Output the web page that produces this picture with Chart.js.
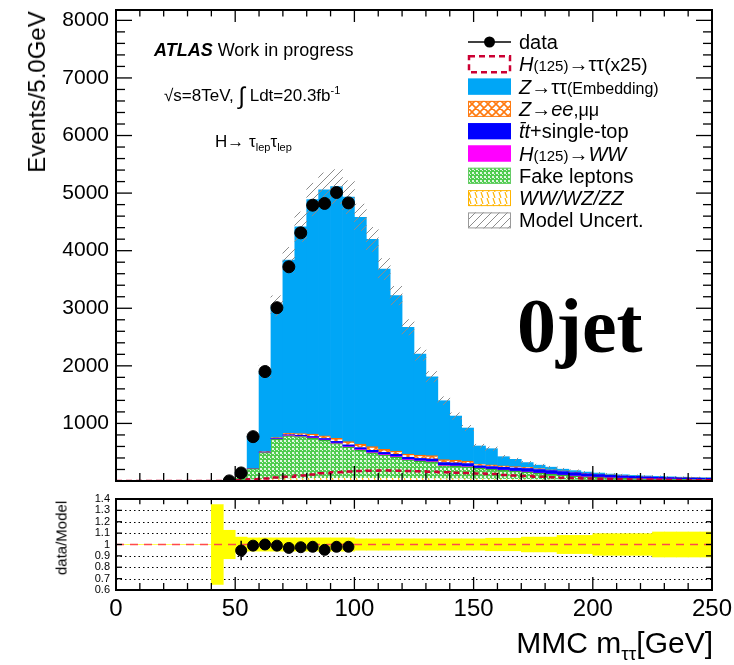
<!DOCTYPE html>
<html>
<head>
<meta charset="utf-8">
<title>MMC mass - 0jet</title>
<script src="https://cdn.jsdelivr.net/npm/chart.js@4.4.1/dist/chart.umd.min.js"></script>
<style>
  html, body { margin: 0; padding: 0; background: #fff; }
  body { position: relative; width: 734px; height: 665px; overflow: hidden;
         font-family: 'Liberation Sans', Arial, sans-serif; color: #000; }
  canvas { position: absolute; left: 0; }
  #cMain  { top: 0; }
  #cRatio { top: 490px; }
  .t { position: absolute; white-space: nowrap; line-height: 1; }
  .t sub, .t sup { line-height: 0; }
</style>
</head>
<body>
<canvas id="cMain" width="734" height="490"></canvas>
<canvas id="cRatio" width="734" height="175"></canvas>

<div class="t" style="left:154px;top:41px;font-size:18px"><b><i>ATLAS</i></b> Work in progress</div>
<div class="t" style="left:164px;top:84px;font-size:17px">√s=8TeV, <span style="font-size:24px;vertical-align:-3px">∫</span> Ldt=20.3fb<sup style="font-size:11px">-1</sup></div>
<div class="t" style="left:215px;top:133px;font-size:17px">H→ τ<sub style="font-size:11px">lep</sub>τ<sub style="font-size:11px">lep</sub></div>
<div class="t" style="left:517px;top:287px;font-family:'Liberation Serif',serif;font-weight:bold;font-size:78px">0jet</div>
<div class="t" style="left:37px;top:92px;font-size:24px;transform:translate(-50%,-50%) rotate(-90deg)">Events/5.0GeV</div>
<div class="t" style="left:61px;top:538px;font-size:15px;transform:translate(-50%,-50%) rotate(-90deg)">data/Model</div>
<div class="t" style="right:21px;top:628px;font-size:30px">MMC m<sub style="font-size:19px">ττ</sub>[GeV]</div>

<script>
'use strict';

// ── Binning: MMC m_tautau, 5 GeV bins from 0 to 250 ─────────
const BIN_CENTRES = [2.5,7.5,12.5,17.5,22.5,27.5,32.5,37.5,42.5,47.5,
                     52.5,57.5,62.5,67.5,72.5,77.5,82.5,87.5,92.5,97.5,
                     102.5,107.5,112.5,117.5,122.5,127.5,132.5,137.5,142.5,147.5,
                     152.5,157.5,162.5,167.5,172.5,177.5,182.5,187.5,192.5,197.5,
                     202.5,207.5,212.5,217.5,222.5,227.5,232.5,237.5,242.5,247.5];
const X_TICKS     = [0, 50, 100, 150, 200, 250];
const Y_TICKS     = [0, 1000, 2000, 3000, 4000, 5000, 6000, 7000, 8000];
const RATIO_TICKS = [0.6, 0.7, 0.8, 0.9, 1.0, 1.1, 1.2, 1.3, 1.4];
const RATIO_GRID  = [0.7, 0.8, 0.9, 1.1, 1.2, 1.3];

// ── Stacked backgrounds (bottom -> top), events / bin ───────
const DIBOSON = [0,0,0,0,0,0,0,0,0,1, 5,20,30,35,40,42,45,46,47,48,
                 48,48,47,46,45,44,42,40,38,36, 34,32,30,28,26,24,22,20,18,16,
                 14,13,12,11,10,9,8,7,7,6];
const FAKES   = [0,0,0,0,0,0,0,0,3,9, 105,195,465,690,745,730,700,660,605,540,
                 490,440,405,370,320,300,290,225,220,210, 185,170,155,140,128,110,95,80,68,57,
                 50,42,37,32,29,26,24,21,19,17];
const HWW     = [0,0,0,0,0,0,0,0,0,0, 0,0,2,3,4,5,5,6,6,7,
                 7,7,7,7,7,6,6,5,5,5, 4,4,4,3,3,3,3,2,2,2,
                 2,1,1,1,1,1,1,1,1,1];
const TTBAR   = [0,0,0,0,0,0,0,0,0,0, 3,3,6,10,14,18,23,26,30,33,
                 35,38,38,40,40,42,44,50,52,52, 40,44,48,55,60,62,62,62,58,52,
                 47,43,40,37,34,31,28,26,25,24];
const ZLL     = [0,0,0,0,0,0,0,0,0,0, 0,2,6,14,25,30,40,47,52,55,
                 60,63,53,57,57,59,58,50,50,44, 32,30,25,24,21,16,13,11,9,8,
                 7,6,5,4,4,3,3,3,2,2];
const ZTT     = [0,0,0,0,0,0,0,0,0,0, 35,558,1391,2288,3007,3591,4075,4273,4372,4246,
                 3940,3599,3130,2700,2201,1754,1371,1024,763,573, 313,281,160,126,82,60,45,30,25,20,
                 18,15,13,12,10,10,8,8,7,6];

// H(125)->tautau signal scaled x25 (overlay, not stacked)
const SIGNAL_X25 = [0,0,0,0,0,0,0,0,2,5, 15,30,45,60,75,95,115,135,150,165,
                    175,180,182,180,175,168,160,152,145,138, 130,120,105,95,85,75,65,58,50,45,
                    40,35,30,27,24,21,18,16,14,12];

// relative model uncertainty per bin
const MODEL_UNC = [0,0,0,0,0,0,0,0,0.35,0.125, 0.065,0.058,0.058,0.058,0.058,0.058,0.058,0.058,0.058,0.058,
                   0.05,0.05,0.05,0.05,0.05,0.05,0.05,0.05,0.05,0.05, 0.05,0.055,0.055,0.055,0.065,0.065,0.065,0.08,0.08,0.08,
                   0.095,0.095,0.095,0.095,0.095,0.11,0.11,0.11,0.11,0.11];

// ── Data (blinded above 100 GeV) ────────────────────────────
const DATA_X   = [47.5, 52.5, 57.5, 62.5, 67.5, 72.5, 77.5, 82.5, 87.5, 92.5, 97.5];
const DATA     = [2, 140, 770, 1900, 3010, 3720, 4310, 4790, 4820, 5010, 4830];
const DATA_ERR = [1.4, 12, 28, 44, 55, 61, 66, 69, 69, 71, 70];

const RATIO_X   = [52.5, 57.5, 62.5, 67.5, 72.5, 77.5, 82.5, 87.5, 92.5, 97.5];
const RATIO     = [0.947, 0.99, 1.0, 0.99, 0.97, 0.976, 0.98, 0.953, 0.98, 0.98];
const RATIO_ERR = [0.085, 0.036, 0.024, 0.019, 0.017, 0.016, 0.015, 0.014, 0.014, 0.014];

const X_MIN = 0, X_MAX = 250, Y_MAX = 8180;
const FONT = "'Liberation Sans', Arial, sans-serif";

Chart.defaults.font.family = FONT;
Chart.defaults.color = '#000';
Chart.defaults.animation = false;

// ── Fill patterns (ROOT-ish hatches) ─────────────────────────
const makePattern = (size, bg, draw) => {
    const c = document.createElement('canvas');
    c.width = c.height = size;
    const g = c.getContext('2d');
    if (bg) { g.fillStyle = bg; g.fillRect(0, 0, size, size); }
    draw(g, size);
    return g.createPattern(c, 'repeat');
};
const strokeLines = (g, lines) => {
    g.beginPath();
    lines.forEach(([a, b, c, d]) => { g.moveTo(a, b); g.lineTo(c, d); });
    g.stroke();
};
const PAT = {
    fakes: makePattern(4, '#4fcc4f', (g) => {
        g.fillStyle = '#e2f8e2';
        g.fillRect(0, 0, 2, 2);
        g.fillRect(2, 2, 1, 1);
    }),
    zll: makePattern(8, '#ffffff', (g, s) => {
        g.strokeStyle = '#ff7a10'; g.lineWidth = 1.6;
        strokeLines(g, [[0,0,s,s],[-s,0,0,s],[s,0,2*s,s],[0,s,s,0],[-s,s,0,0],[s,s,2*s,0]]);
    }),
    diboson: makePattern(6, '#ffffff', (g, s) => {
        g.strokeStyle = '#ffb400'; g.lineWidth = 1.2;
        strokeLines(g, [[1,0,3,s],[-5,0,-3,s],[7,0,9,s]]);
    }),
    unc: makePattern(8, null, (g, s) => {
        g.strokeStyle = '#8c8c8c'; g.lineWidth = 1;
        strokeLines(g, [[0,s,s,0],[-s,s,0,0],[s,s,2*s,0]]);
    }),
};

const COL = { ztt: '#00a6f6', ttbar: '#0000ff', hww: '#ff00ff', signal: '#cc0033' };

// ── Derived tables ───────────────────────────────────────────
const TOTAL = BIN_CENTRES.map((_, i) => DIBOSON[i] + FAKES[i] + HWW[i] + TTBAR[i] + ZLL[i] + ZTT[i]);
const asXY = (arr) => BIN_CENTRES.map((x, i) => ({ x, y: arr[i] }));
const signalSteps = [{ x: X_MIN, y: SIGNAL_X25[0] }, ...asXY(SIGNAL_X25),
                     { x: X_MAX, y: SIGNAL_X25[SIGNAL_X25.length - 1] }];

// keep the plot frame exactly where it is in the reference
const noPad = (s) => { s.paddingTop = 0; s.paddingBottom = 0; s.paddingLeft = 0; s.paddingRight = 0; };

// ── Plugins ──────────────────────────────────────────────────
// ROOT style frame with inward major/minor ticks, optional dotted grid
const rootFrame = {
    id: 'rootFrame',
    beforeDatasetsDraw(chart, args, o) {
        if (!o.grid) return;
        const { ctx, chartArea: a, scales: { y } } = chart;
        ctx.save();
        ctx.strokeStyle = '#000'; ctx.lineWidth = 1; ctx.setLineDash([1.5, 3]);
        o.grid.forEach(v => {
            const py = Math.round(y.getPixelForValue(v)) + 0.5;
            ctx.beginPath(); ctx.moveTo(a.left, py); ctx.lineTo(a.right, py); ctx.stroke();
        });
        ctx.restore();
    },
    afterDatasetsDraw(chart, args, o) {
        const { ctx, chartArea: a, scales: { x, y } } = chart;
        ctx.save();
        ctx.strokeStyle = '#000'; ctx.lineWidth = 1.3;
        const seg = (x1, y1, x2, y2) => { ctx.beginPath(); ctx.moveTo(x1, y1); ctx.lineTo(x2, y2); ctx.stroke(); };
        const nx = Math.round((x.max - x.min) / o.xMinor);
        for (let i = 0; i <= nx; i++) {
            const px = x.getPixelForValue(x.min + i * o.xMinor);
            const L = i % o.xEvery === 0 ? o.xLen[0] : o.xLen[1];
            seg(px, a.bottom, px, a.bottom - L);
            seg(px, a.top, px, a.top + L * o.topScale);
        }
        const ny = Math.floor((y.max - y.min) / o.yMinor + 1e-6);
        for (let i = 0; i <= ny; i++) {
            const py = y.getPixelForValue(y.min + i * o.yMinor);
            const L = i % o.yEvery === 0 ? o.yLen[0] : o.yLen[1];
            seg(a.left, py, a.left + L, py);
            seg(a.right, py, a.right - L, py);
        }
        ctx.lineWidth = 2;
        ctx.strokeRect(a.left, a.top, a.width, a.height);
        ctx.restore();
    }
};

// vertical error bars for datasets carrying an `errors` array
const errorBars = {
    id: 'errorBars',
    afterDatasetsDraw(chart) {
        const ctx = chart.ctx;
        chart.data.datasets.forEach((ds, i) => {
            if (!ds.errors) return;
            const meta = chart.getDatasetMeta(i);
            const ys = chart.scales[meta.yAxisID];
            ctx.save();
            ctx.strokeStyle = '#000'; ctx.lineWidth = 1.5;
            meta.data.forEach((pt, j) => {
                const v = ds.data[j].y, e = ds.errors[j];
                ctx.beginPath();
                ctx.moveTo(pt.x, ys.getPixelForValue(v - e));
                ctx.lineTo(pt.x, ys.getPixelForValue(v + e));
                ctx.stroke();
            });
            ctx.restore();
        });
    }
};

// ATLAS style legend box at the top right
const LEGEND = [
    { kind: 'data',   runs: [['data', '20px']] },
    { kind: 'signal', runs: [['H', 'italic 20px'], ['(125)', '15px'], ['→ττ', '20px'], ['(x25)', '19px']] },
    { kind: 'fill', fill: COL.ztt, edge: COL.ztt,
      runs: [['Z', 'italic 20px'], ['→ττ', '20px'], ['(Embedding)', '16px']] },
    { kind: 'fill', fill: PAT.zll, edge: '#ff7a10',
      runs: [['Z', 'italic 20px'], ['→', '20px'], ['ee', 'italic 20px'], [',μμ', '18px']] },
    { kind: 'fill', fill: COL.ttbar, edge: COL.ttbar,
      runs: [['t\u0304t', 'italic 20px'], ['+single-top', '20px']] },
    { kind: 'fill', fill: COL.hww, edge: COL.hww,
      runs: [['H', 'italic 20px'], ['(125)', '15px'], ['→', '20px'], ['WW', 'italic 20px']] },
    { kind: 'fill', fill: PAT.fakes, edge: '#66cc66', runs: [['Fake leptons', '20px']] },
    { kind: 'fill', fill: PAT.diboson, edge: '#ffb400', runs: [['WW/WZ/ZZ', 'italic 20px']] },
    { kind: 'fill', fill: PAT.unc, edge: '#9a9a9a', runs: [['Model Uncert.', '20px']] },
];
const legendBox = {
    id: 'legendBox',
    afterDraw(chart) {
        const ctx = chart.ctx;
        const x0 = 468, w = 43, h = 16, tx = 519, y0 = 42, dy = 22.3;
        ctx.save();
        LEGEND.forEach((row, k) => {
            const cy = y0 + k * dy;
            if (row.kind === 'data') {
                ctx.strokeStyle = '#000'; ctx.lineWidth = 1.5;
                ctx.beginPath(); ctx.moveTo(x0, cy); ctx.lineTo(x0 + w, cy); ctx.stroke();
                ctx.fillStyle = '#000';
                ctx.beginPath(); ctx.arc(x0 + w / 2, cy, 5.5, 0, Math.PI * 2); ctx.fill();
            } else if (row.kind === 'signal') {
                ctx.strokeStyle = COL.signal; ctx.lineWidth = 2.5; ctx.setLineDash([6, 4]);
                ctx.strokeRect(x0 + 1, cy - h / 2, w - 2, h);
                ctx.setLineDash([]);
            } else {
                ctx.fillStyle = row.fill;
                ctx.fillRect(x0, cy - h / 2, w, h);
                ctx.strokeStyle = row.edge; ctx.lineWidth = 1;
                ctx.strokeRect(x0 + 0.5, cy - h / 2 + 0.5, w - 1, h - 1);
            }
            let x = tx;
            ctx.fillStyle = '#000'; ctx.textBaseline = 'alphabetic'; ctx.textAlign = 'left';
            row.runs.forEach(([t, f]) => {
                ctx.font = `${f} ${FONT}`;
                ctx.fillText(t, x, cy + 7);
                x += ctx.measureText(t).width;
            });
        });
        ctx.restore();
    }
};

// ── Main distribution ────────────────────────────────────────
const stackBar = (label, arr, fill, extra = {}) => Object.assign({
    label, data: asXY(arr), backgroundColor: fill, borderWidth: 0, order: 10,
}, extra);

new Chart(document.getElementById('cMain'), {
    type: 'bar',
    data: {
        datasets: [
            stackBar('WW/WZ/ZZ', DIBOSON, PAT.diboson),
            stackBar('Fake leptons', FAKES, PAT.fakes, { borderColor: '#35b035', borderWidth: { top: 1.2 } }),
            stackBar('H(125)→WW', HWW, COL.hww),
            stackBar('tt+single-top', TTBAR, COL.ttbar),
            stackBar('Z→ee,μμ', ZLL, PAT.zll, { borderColor: '#ff6a00', borderWidth: { top: 1.5 } }),
            stackBar('Z→ττ (Embedding)', ZTT, COL.ztt),
            {
                label: 'Model Uncert.', yAxisID: 'yU', order: 2, borderWidth: 0,
                backgroundColor: PAT.unc,
                data: BIN_CENTRES.map((x, i) => ({ x, y: [TOTAL[i] * (1 - MODEL_UNC[i]), TOTAL[i] * (1 + MODEL_UNC[i])] })),
            },
            {
                type: 'line', label: 'H(125)→ττ (x25)', yAxisID: 'yU', order: 1,
                data: signalSteps, stepped: 'middle', borderColor: COL.signal,
                borderWidth: 2.5, borderDash: [6, 4], pointRadius: 0, fill: false,
            },
            {
                type: 'line', label: 'data', yAxisID: 'yU', order: 0, showLine: false,
                data: DATA_X.map((x, i) => ({ x, y: DATA[i] })), errors: DATA_ERR,
                pointRadius: 6, pointBackgroundColor: '#000', pointBorderColor: '#000',
            },
        ]
    },
    options: {
        responsive: false,
        layout: { padding: { top: 10, right: 22, left: 0, bottom: 0 } },
        datasets: { bar: { categoryPercentage: 1, barPercentage: 1 } },
        plugins: {
            legend: { display: false }, tooltip: { enabled: false },
            rootFrame: { xMinor: 10, xEvery: 5, xLen: [15, 8], topScale: 0.8,
                         yMinor: 200, yEvery: 5, yLen: [16, 9] },
        },
        scales: {
            x: {
                type: 'linear', min: X_MIN, max: X_MAX, stacked: true, offset: false,
                grid: { display: false, offset: false }, border: { display: false },
                ticks: { display: false },
                afterBuildTicks: s => { s.ticks = X_TICKS.map(v => ({ value: v })); },
                afterFit: s => { s.height = 9; noPad(s); },
            },
            y: {
                type: 'linear', min: 0, max: Y_MAX, stacked: true,
                grid: { display: false, drawTicks: false }, border: { display: false },
                ticks: { padding: 7, font: { size: 21 }, autoSkip: false, callback: v => (v === 0 ? '' : v) },
                afterBuildTicks: s => { s.ticks = Y_TICKS.map(v => ({ value: v })); },
                afterFit: s => { s.width = 116; noPad(s); },
            },
            yU: { type: 'linear', min: 0, max: Y_MAX, display: false, stacked: false },
        }
    },
    plugins: [rootFrame, errorBars, legendBox],
});

// ── Ratio data / model ───────────────────────────────────────
new Chart(document.getElementById('cRatio'), {
    type: 'bar',
    data: {
        datasets: [
            {
                label: 'Model Uncert.', order: 2, borderWidth: 0, backgroundColor: '#ffff00',
                data: BIN_CENTRES.map((x, i) => ({ x, y: [1 - MODEL_UNC[i], 1 + MODEL_UNC[i]] })),
            },
            {
                type: 'line', label: 'unity', order: 1,
                data: [{ x: X_MIN, y: 1 }, { x: X_MAX, y: 1 }],
                borderColor: '#ff4a4a', borderWidth: 1.5, borderDash: [8, 6], pointRadius: 0,
            },
            {
                type: 'line', label: 'data/Model', order: 0, showLine: false,
                data: RATIO_X.map((x, i) => ({ x, y: RATIO[i] })), errors: RATIO_ERR,
                pointRadius: 5.5, pointBackgroundColor: '#000', pointBorderColor: '#000',
            },
        ]
    },
    options: {
        responsive: false,
        layout: { padding: { top: 9, right: 22, left: 0, bottom: 0 } },
        datasets: { bar: { categoryPercentage: 1, barPercentage: 1 } },
        plugins: {
            legend: { display: false }, tooltip: { enabled: false },
            rootFrame: { grid: RATIO_GRID, xMinor: 10, xEvery: 5, xLen: [13, 7], topScale: 0.75,
                         yMinor: 0.1, yEvery: 1, yLen: [6, 6] },
        },
        scales: {
            x: {
                type: 'linear', min: X_MIN, max: X_MAX, offset: false,
                grid: { display: false, drawTicks: false, offset: false }, border: { display: false },
                ticks: { padding: 5, font: { size: 24 }, autoSkip: false, maxRotation: 0 },
                afterBuildTicks: s => { s.ticks = X_TICKS.map(v => ({ value: v })); },
                afterFit: s => { s.height = 75; noPad(s); },
            },
            y: {
                type: 'linear', min: 0.6, max: 1.4,
                grid: { display: false, drawTicks: false }, border: { display: false },
                ticks: { padding: 6, font: { size: 11 }, autoSkip: false, callback: v => String(+v.toFixed(1)) },
                afterBuildTicks: s => { s.ticks = RATIO_TICKS.map(v => ({ value: v })); },
                afterFit: s => { s.width = 116; noPad(s); },
            },
        }
    },
    plugins: [rootFrame, errorBars],
});
</script>
</body>
</html>
